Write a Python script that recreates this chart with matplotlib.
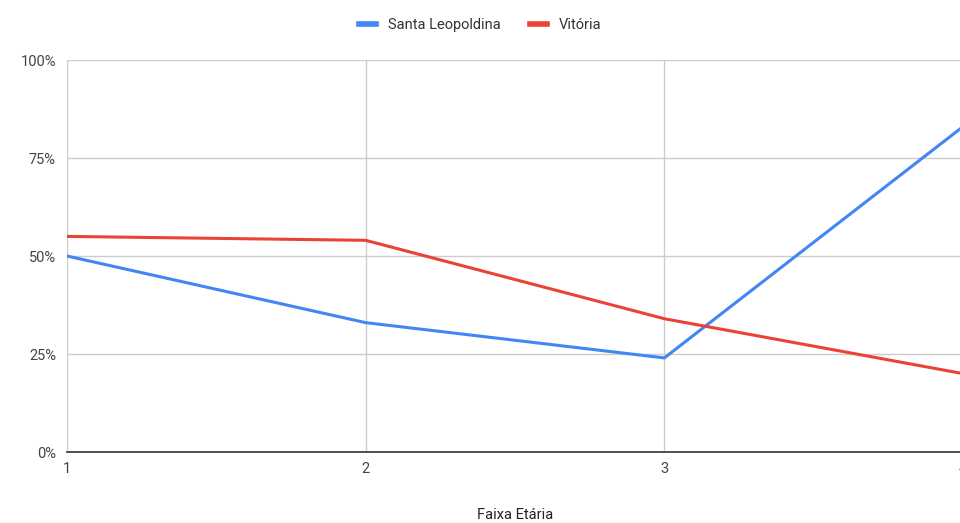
import matplotlib
matplotlib.use("Agg")
import matplotlib.pyplot as plt
from matplotlib.ticker import PercentFormatter

plt.rcParams['font.family'] = ['Roboto', 'DejaVu Sans']

faixas = [1, 2, 3, 4]
santa_leopoldina = [50, 33, 24, 83]
vitoria = [55, 54, 34, 20]

fig = plt.figure(figsize=(9.6, 5.23), dpi=100)
ax = fig.add_axes([67 / 960, 71 / 523, 896 / 960, 392 / 523])

ax.plot(faixas, santa_leopoldina, color="#4285F4", lw=2.2, label="Santa Leopoldina")
ax.plot(faixas, vitoria, color="#EA4335", lw=2.2, label="Vitória")

ax.set_xlim(1, 4)
ax.set_ylim(0, 100)
ax.set_xticks(faixas)
ax.set_yticks([0, 25, 50, 75, 100])
ax.yaxis.set_major_formatter(PercentFormatter(decimals=0))
ax.grid(True, color="#cccccc", lw=1)
ax.set_axisbelow(True)
for s in ["top", "right", "left"]:
    ax.spines[s].set_visible(False)
ax.spines["bottom"].set_color("#333333")
ax.spines["bottom"].set_linewidth(1.2)
ax.tick_params(length=0, labelsize=10.5, colors="#444444", pad=7)
ax.tick_params(axis="y", pad=8)

ax.set_xlabel("Faixa Etária", fontsize=10.5, color="#222222")
ax.xaxis.set_label_coords(0.5, -(508 - 452) / 392)

fig.legend(loc="center", bbox_to_anchor=(0.5, 1 - 25 / 523), ncol=2, frameon=False,
           fontsize=10.5, handlelength=1.2, handletextpad=0.8, columnspacing=2.0,
           labelcolor="#333333")
for line in fig.legends[0].get_lines():
    line.set_linewidth(4)

fig.savefig("out.png", dpi=100)
